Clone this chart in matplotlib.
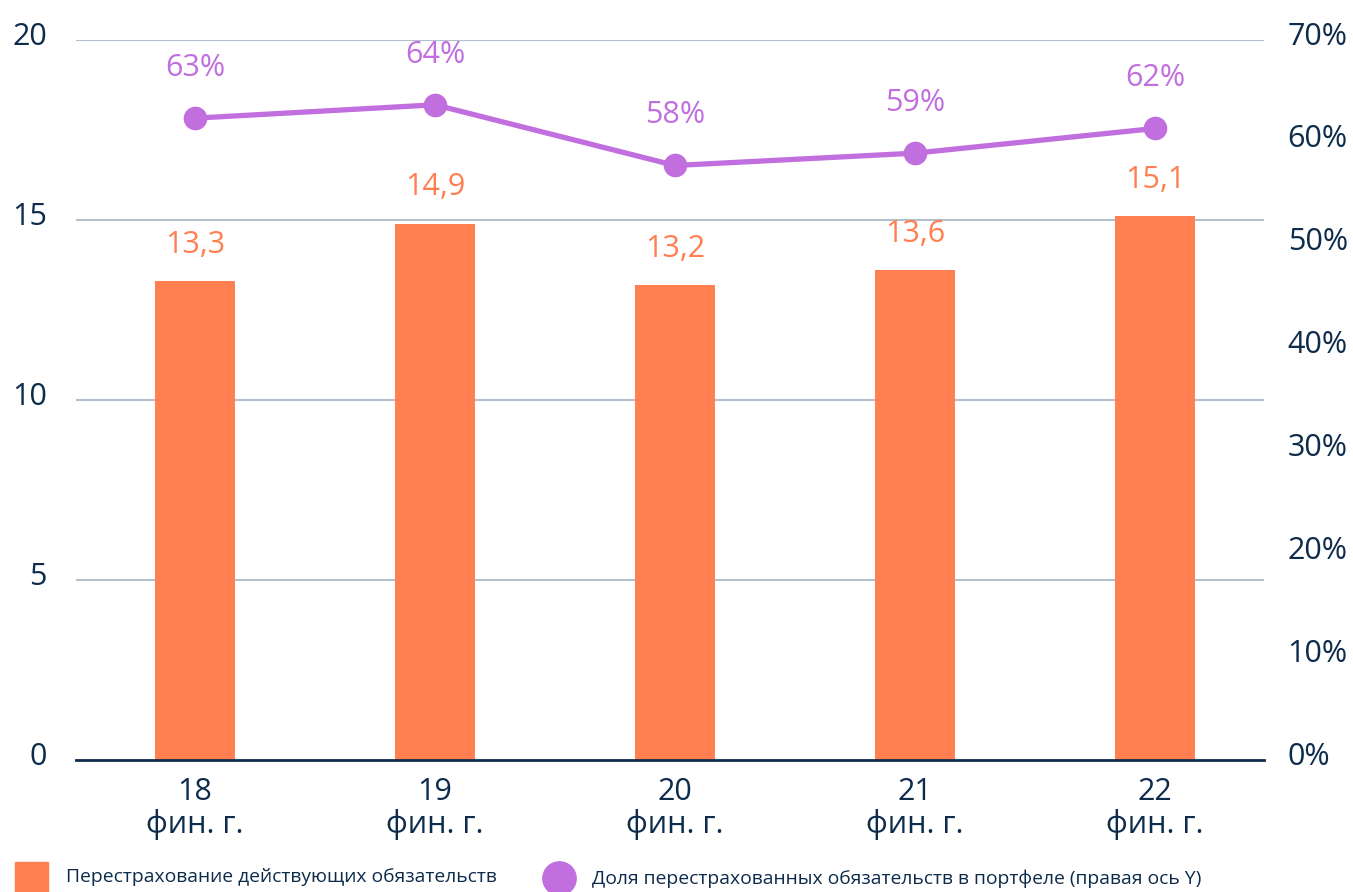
import matplotlib
matplotlib.use("Agg")
import matplotlib.pyplot as plt
import matplotlib.transforms as mtransforms
from matplotlib.lines import Line2D
from matplotlib.patches import Rectangle

plt.rcParams['font.family'] = ['Open Sans', 'DejaVu Sans']

categories = ["18\nфин. г.", "19\nфин. г.", "20\nфин. г.", "21\nфин. г.", "22\nфин. г."]
bar_values = [13.3, 14.9, 13.2, 13.6, 15.1]
bar_labels = ["13,3", "14,9", "13,2", "13,6", "15,1"]
share_values = [62.4, 63.7, 57.8, 59.0, 61.4]
share_labels = ["63%", "64%", "58%", "59%", "62%"]
left_ticks = [0, 5, 10, 15, 20]
right_ticks = [0, 10, 20, 30, 40, 50, 60, 70]
legend_bar = "Перестрахование действующих обязательств"
legend_line = "Доля перестрахованных обязательств в портфеле (правая ось Y)"

ORANGE = "#FF7F50"
PURPLE = "#C16EDF"
NAVY = "#0D2B4B"
GRID = "#B3C0CB"

W, H = 1353, 892
fig = plt.figure(figsize=(W / 100, H / 100), dpi=100)
ax_l, ax_r, ax_b, ax_t = 76 / W, 1264 / W, 1 - 760 / H, 1 - 40 / H
ax = fig.add_axes([ax_l, ax_b, ax_r - ax_l, ax_t - ax_b])

x = list(range(len(categories)))
ax.bar(x, bar_values, width=0.333, color=ORANGE, zorder=3)
ax.set_xlim(-0.496, 4.454)
ax.set_ylim(0, 20)
ax.set_yticks(left_ticks)
for t in left_ticks[1:]:
    ax.axhline(t, color=GRID, lw=1.5, zorder=1)
for s in ["top", "right", "left"]:
    ax.spines[s].set_visible(False)
ax.spines["bottom"].set_color(NAVY)
ax.spines["bottom"].set_linewidth(2)
ax.spines["bottom"].set_zorder(4)
ax.tick_params(axis="y", length=0, pad=21, labelsize=22, labelcolor=NAVY)
ax.set_xticks(x)
ax.set_xticklabels(categories, linespacing=1.1)
ax.tick_params(axis="x", length=0, pad=12, labelsize=22, labelcolor=NAVY)
off = mtransforms.ScaledTranslation(0, 5 / 72, fig.dpi_scale_trans)
for lab in ax.get_yticklabels():
    lab.set_transform(lab.get_transform() + off)

for xi, v, lab in zip(x, bar_values, bar_labels):
    ax.annotate(lab, (xi, v), xytext=(0, 26), textcoords="offset points",
                ha="center", va="center", fontsize=22, color=ORANGE, zorder=5)

ax2 = ax.twinx()
ax2.set_ylim(0, 70)
ax2.set_yticks(right_ticks)
ax2.set_yticklabels([f"{t}%" for t in right_ticks])
for s in ["top", "right", "left", "bottom"]:
    ax2.spines[s].set_visible(False)
ax2.tick_params(axis="y", length=0, pad=17, labelsize=22, labelcolor=NAVY)
for lab in ax2.get_yticklabels():
    lab.set_transform(lab.get_transform() + off)
ax2.plot(x, share_values, color=PURPLE, lw=3.8, marker="o", markersize=16,
         solid_capstyle="round", zorder=5)
for xi, v, lab in zip(x, share_values, share_labels):
    ax2.annotate(lab, (xi, v), xytext=(0, 36), textcoords="offset points",
                 ha="center", va="center", fontsize=22, color=PURPLE)

# legend
fig.patches.append(Rectangle((15 / W, 1 - 893 / H), 33 / W, 31 / H,
                             transform=fig.transFigure, color=ORANGE))
fig.text(66 / W, 1 - 877 / H, legend_bar, fontsize=13.9, color=NAVY,
         ha="left", va="center")
fig.lines.append(Line2D([559 / W], [1 - 878 / H], transform=fig.transFigure,
                        marker="o", markersize=24, color=PURPLE, lw=0))
fig.text(592 / W, 1 - 879 / H, legend_line, fontsize=13.9, color=NAVY,
         ha="left", va="center")

fig.savefig("out.png", dpi=100)
